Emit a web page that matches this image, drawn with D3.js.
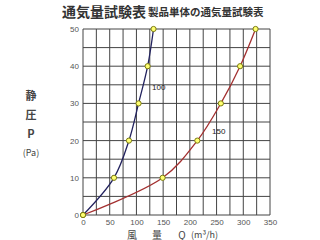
<!DOCTYPE html>
<html>
<head>
<meta charset="utf-8">
<script src="https://cdn.jsdelivr.net/npm/d3@7"></script>
<style>
body { margin: 0; background: #fff; }
svg { display: block; font-family: "Liberation Sans", Arial, sans-serif; }
</style>
</head>
<body>
<svg id="chart" width="320" height="240"></svg>
<script>
// flow rate Q (m3/h) vs static pressure P (Pa)
var pressures = [0, 10, 20, 30, 40, 50]
var flow100 = [0, 58, 86, 104, 121, 132]
var flow150 = [0, 149, 214, 258, 294, 323]
var seriesNames = ['100', '150']
var xTicks = [0, 50, 100, 150, 200, 250, 300, 350]
var yTicks = [0, 10, 20, 30, 40, 50]

var svg = d3.select('#chart')
var x = d3.scaleLinear().domain([0, 350]).range([83, 270])
var y = d3.scaleLinear().domain([0, 50]).range([215, 29])

// grid
var g = svg.append('g')
g.selectAll('.vg').data(d3.range(0, 351, 25)).enter().append('line')
    .attr('x1', d => x(d)).attr('x2', d => x(d))
    .attr('y1', y(0)).attr('y2', y(50))
    .style('stroke', '#444').style('stroke-width', 1)
g.selectAll('.hg').data(d3.range(0, 51, 5)).enter().append('line')
    .attr('x1', x(0)).attr('x2', x(350))
    .attr('y1', d => y(d)).attr('y2', d => y(d))
    .style('stroke', '#444').style('stroke-width', 1)

// axes tick labels
var xAxis = d3.axisBottom(x).tickValues(xTicks).tickSize(0).tickPadding(4)
var ax = svg.append('g').attr('transform', 'translate(0,' + y(0) + ')').call(xAxis)
ax.select('.domain').remove()
ax.selectAll('text').style('font-size', '8px').style('fill', '#555')

var yAxis = d3.axisLeft(y).tickValues(yTicks).tickSize(0).tickPadding(4)
var ay = svg.append('g').attr('transform', 'translate(' + x(0) + ',0)').call(yAxis)
ay.select('.domain').remove()
ay.selectAll('text').style('font-size', '8px').style('fill', '#555')

// curves
var series = [
    {name: seriesNames[0], flows: flow100, color: '#22225e', lx: 152, ly: 90},
    {name: seriesNames[1], flows: flow150, color: '#a33030', lx: 212, ly: 134}
]
var line = d3.line().x(d => x(d[0])).y(d => y(d[1])).curve(d3.curveCatmullRom)

series.forEach(function(s) {
    var pts = s.flows.map((f, i) => [f, pressures[i]])
    svg.append('path').attr('d', line(pts))
        .style('fill', 'none').style('stroke', s.color).style('stroke-width', 1.3)
    svg.selectAll(null).data(pts).enter().append('circle')
        .attr('cx', d => x(d[0])).attr('cy', d => y(d[1])).attr('r', 2.6)
        .style('fill', '#ffff70').style('stroke', '#7a7a10').style('stroke-width', 1)
    svg.append('text').attr('x', s.lx).attr('y', s.ly)
        .style('font-size', '8px').style('fill', '#222').text(s.name)
})

// titles
svg.append('text').attr('x', 62).attr('y', 17)
    .style('font-family', '"Noto Sans CJK JP"').style('font-weight', 'bold')
    .style('font-size', '14px').style('fill', '#333').text('通気量試験表')
svg.append('text').attr('x', 148).attr('y', 16)
    .style('font-family', '"Noto Sans CJK JP"').style('font-weight', 'bold')
    .style('font-size', '10.5px').style('fill', '#333').text('製品単体の通気量試験表')

// axis titles
var yl = [['静', 100, 11, 'bold'], ['圧', 119, 11, 'bold'], ['P', 138, 11, 'bold'], ['(Pa)', 156, 9, 'normal']]
yl.forEach(function(t) {
    svg.append('text').attr('x', 31).attr('y', t[1]).style('text-anchor', 'middle')
        .style('font-family', '"Noto Sans CJK JP"').style('font-weight', t[3])
        .style('font-size', t[2] + 'px').style('fill', '#444').text(t[0])
})
var xl = [['風', 132], ['量', 157], ['Q', 182]]
xl.forEach(function(t) {
    svg.append('text').attr('x', t[1]).attr('y', 238.5).style('text-anchor', 'middle')
        .style('font-family', '"Noto Sans CJK JP"')
        .style('font-size', '10px').style('fill', '#444').text(t[0])
})
svg.append('text').attr('x', 191).attr('y', 238)
    .style('font-family', '"Noto Sans CJK JP"')
    .style('font-size', '9px').style('fill', '#444').text('(m³/h)')
</script>
</body>
</html>
